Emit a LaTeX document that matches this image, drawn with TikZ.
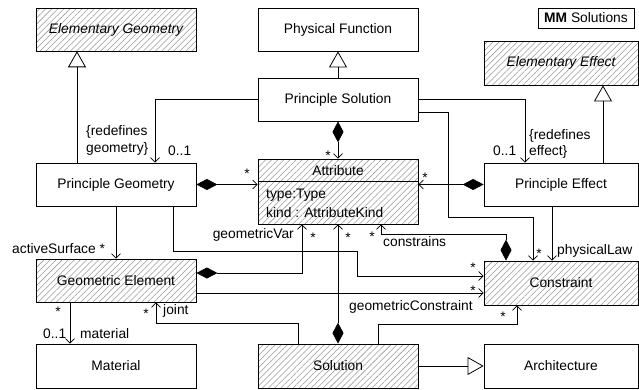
\documentclass[tikz,border=0pt]{standalone}
\usepackage{fontspec}
\setmainfont{Liberation Sans}
\usetikzlibrary{arrows.meta,patterns.meta,calc}
\begin{document}
\begin{tikzpicture}[x=1pt,y=-1pt,
  font=\fontsize{13.8}{18}\selectfont,
  box/.style={draw,line width=0.8pt,inner sep=0pt,minimum width=160pt,minimum height=43pt},
  wbox/.style={box,minimum width=154pt},
  hatch/.style={pattern={Lines[angle=45,distance=4.3pt,line width=0.55pt]},pattern color=black!40},
  lbl/.style={inner sep=0pt,anchor=base west},
  st/.style={inner sep=0pt,anchor=base},
  conn/.style={line width=0.8pt},
  assoc/.style={conn,-{Straight Barb[length=4.5pt,width=9pt,line width=0.7pt]}},
  comp/.style={conn,{Diamond[length=21pt,width=11pt]}-{Straight Barb[length=4.5pt,width=9pt,line width=0.7pt]}},
  gen/.style={conn,-{Triangle[open,length=16pt,width=18pt,line width=0.8pt]}}]
\useasboundingbox (0,0) rectangle (639,389);

% boxes
\node[box,hatch] (EG) at (116,29.5) {\itshape Elementary Geometry};
\node[box] (PF) at (338,29.5) {Physical Function};
\node[box] (PS) at (338,99.5) {Principle Solution};
\node[draw,line width=0.8pt,minimum width=96pt,minimum height=20pt,inner sep=0pt] (MM) at (586,18) {\textbf{MM} Solutions};
\node[wbox,hatch,minimum height=44pt] (EE) at (561,63) {\itshape Elementary Effect};
\node[box] (PG) at (116,184.5) {Principle Geometry};
\node[box,hatch,minimum height=65pt] (Attr) at (338,191.5) {};
\node[inner sep=0pt] (AttrT) at (338,171) {Attribute};
\draw[line width=0.8pt] ($(Attr.north west)+(0,23)$) -- ($(Attr.north east)+(0,23)$);
\node[lbl] (AttrA) at (266,198) {type:Type};
\node[lbl] (AttrB) at (266,217) {kind : AttributeKind};
\node[wbox] (PE) at (561,184.5) {Principle Effect};
\node[box,hatch] (GE) at (116,280.5) {Geometric Element};
\node[wbox,hatch,minimum height=44pt] (Con) at (561,283) {Constraint};
\node[box,minimum height=44pt] (Mat) at (116,366) {Material};
\node[box,hatch,minimum height=44pt] (Sol) at (338,366) {Solution};
\node[wbox,minimum height=44pt] (Arch) at (561,366) {Architecture};

% generalizations
\draw[gen] ($(PG.north)+(-39,0)$) coordinate (g1) -- (g1 |- EG.south);
\draw[gen] (PS.north) -- (PF.south);
\draw[gen] ($(PE.north)+(42,0)$) coordinate (g3) -- (g3 |- EE.south);
\draw[gen] (Sol.east) -- (Arch.west);

% associations
\draw[assoc] (PS.west) -| ($(PG.north)+(39,0)$);
\draw[assoc] (PS.east) -| ($(PE.north)+(-36,0)$);
\draw[assoc] ($(PS.east)+(0,12.5)$) -| (448,217) -| ($(Con.north)+(-28,0)$);
\draw[assoc] ($(PE.south)+(-9,0)$) -- ($(Con.north)+(-9,0)$);
\draw[assoc] ($(PG.south)+(57,0)$) |- (357,251) |- ($(Con.west)+(0,-7)$);
\draw[assoc] (PG.south) -- (GE.north);
\draw[assoc] ($(GE.east)+(0,12.5)$) coordinate (c15) -- (Con.west |- c15);
\draw[assoc] ($(GE.south)+(-46,0)$) -- ($(Mat.north)+(-46,0)$);
\draw[assoc] ($(Sol.north)+(-40,0)$) |- ($(GE.south)+(40,21)$) -- ($(GE.south)+(40,0)$);
\draw[assoc] ($(Sol.north)+(40,0)$) |- ($(Con.south)+(-44,19)$) -- ($(Con.south)+(-44,0)$);

% compositions
\draw[comp] (PS.south) -- (Attr.north);
\draw[comp] (PG.east) -- (Attr.west |- PG.east);
\draw[comp] (PE.west) -- (Attr.east |- PE.west);
\draw[comp] ($(Con.north)+(-55,0)$) |- ($(Attr.south)+(43,10)$) -- ($(Attr.south)+(43,0)$);
\draw[comp] ($(GE.east)+(0,-7.5)$) -| ($(Attr.south)+(-36,0)$);
\draw[comp] (Sol.north) -- (Attr.south);

% labels
\node[lbl] (l1) at (86,135) {\{redefines};
\node[lbl] (l2) at (86,152) {geometry\}};
\node[lbl] (l3) at (168,155) {0..1};
\node[lbl] (l4) at (529,139) {\{redefines};
\node[lbl] (l5) at (529,155) {effect\}};
\node[lbl] (l6) at (493,155) {0..1};
\node[inner sep=0pt,anchor=base east] (l7) at (294,238) {geometricVar};
\node[lbl] (l8) at (383,246) {constrains};
\node[lbl] (l9) at (349,310) {geometricConstraint};
\node[lbl] (l10) at (557,254) {physicalLaw};
\node[lbl] (l11) at (12,253) {activeSurface *};
\node[lbl] (l12) at (43,338) {0..1};
\node[lbl] (l13) at (80,338) {material};
\node[lbl] (l14) at (163,314) {joint};

% multiplicities
\node[st] (s1) at (247,178) {*};
\node[st] (s2) at (328,160) {*};
\node[st] (s3) at (425,182) {*};
\node[st] (s4) at (313,242) {*};
\node[st] (s5) at (348,242) {*};
\node[st] (s6) at (372,241) {*};
\node[st] (s7) at (473,272) {*};
\node[st] (s8) at (473,295) {*};
\node[st] (s9) at (503,321) {*};
\node[st] (s10) at (539,258) {*};
\node[st] (s12) at (58,316) {*};
\node[st] (s13) at (146,318) {*};
\end{tikzpicture}
\end{document}
